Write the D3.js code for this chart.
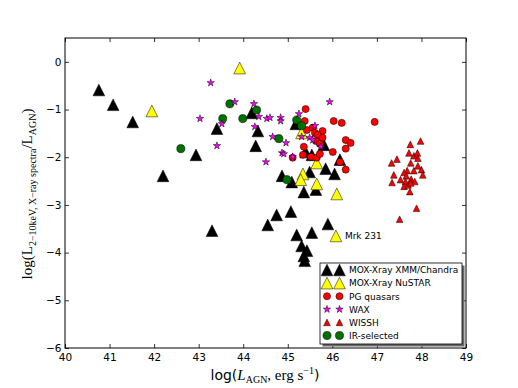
<!DOCTYPE html>
<html>
<head>
<meta charset="utf-8">
<script src="https://cdn.jsdelivr.net/npm/d3@7"></script>
<style>
  body { margin: 0; background: #fff; }
  .tick text { font-family: "DejaVu Sans", sans-serif; font-size: 10.5px; fill: #000; }
  .tick line { stroke: #000; stroke-width: 0.8; }
</style>
</head>
<body>
<div class="chart"></div>
<script>
// Data: [log L_AGN, log(L_2-10/L_AGN)]
const moxXmm = [
  [40.76, -0.59], [41.08, -0.90], [41.52, -1.26], [42.20, -2.39], [42.94, -1.95],
  [43.41, -1.40], [43.30, -3.54], [44.19, -1.07], [44.33, -1.45], [44.28, -1.76],
  [45.18, -1.30], [45.40, -1.89], [45.54, -1.95], [45.81, -1.74], [46.17, -2.05],
  [44.87, -2.39], [45.09, -2.52], [45.36, -2.73], [45.63, -2.68], [45.49, -2.31],
  [45.85, -2.24], [46.05, -2.35], [44.55, -3.42], [44.75, -3.21], [45.07, -3.14],
  [45.20, -3.63], [45.54, -3.58], [45.90, -3.40], [45.31, -3.86], [45.43, -3.96],
  [45.36, -4.07], [45.38, -4.17]
];
const moxNustar = [
  [41.95, -1.03], [43.92, -0.13], [45.31, -1.49], [45.65, -2.12], [45.34, -2.35],
  [45.29, -2.47], [45.65, -2.56], [46.10, -2.77], [46.08, -3.65]
];
const pgQuasars = [
  [45.40, -0.99], [45.38, -1.24], [46.03, -1.24], [46.21, -1.28], [46.95, -1.26],
  [45.43, -1.43], [45.56, -1.38], [45.78, -1.45], [45.61, -1.49], [45.67, -1.53],
  [45.78, -1.59], [45.63, -1.66], [45.72, -1.72], [45.36, -1.78], [46.30, -1.64],
  [46.41, -1.70], [46.30, -1.82], [46.01, -1.89], [45.34, -1.95], [45.52, -1.99],
  [45.65, -2.01], [45.72, -1.93], [45.11, -2.01], [46.17, -2.10], [46.30, -2.26]
];
const wax = [
  [43.27, -0.44], [43.03, -1.19], [43.41, -1.76], [43.52, -1.30], [43.81, -0.84],
  [44.24, -0.88], [44.35, -1.15], [44.26, -1.36], [44.53, -1.19], [44.60, -1.17],
  [44.84, -1.17], [44.84, -1.24], [44.66, -1.57], [44.96, -1.70], [44.87, -1.91],
  [44.91, -1.93], [45.11, -1.99], [44.51, -2.10], [45.25, -1.09], [45.61, -1.34],
  [45.31, -1.57], [45.49, -1.59], [45.56, -1.64], [45.74, -1.78], [45.94, -0.84]
];
const wissh = [
  [47.75, -1.73], [47.98, -1.66], [47.72, -1.91], [47.83, -1.97], [47.91, -1.91],
  [47.92, -2.02], [47.33, -2.12], [47.45, -2.04], [47.76, -2.12], [47.92, -2.18],
  [48.00, -2.26], [47.68, -2.28], [47.61, -2.32], [47.83, -2.28], [48.03, -2.37],
  [47.38, -2.37], [47.66, -2.39], [47.53, -2.47], [47.77, -2.46], [47.85, -2.51],
  [47.34, -2.53], [47.64, -2.51], [47.61, -2.61], [47.70, -2.58], [47.76, -2.54],
  [47.74, -2.72], [47.89, -3.07], [47.51, -3.30]
];
const irSelected = [
  [42.60, -1.82], [43.54, -1.19], [43.70, -0.88], [43.99, -1.19], [44.30, -1.01],
  [44.80, -1.61], [45.20, -1.22], [45.31, -1.34], [44.98, -2.47]
];
const xTicks = [40, 41, 42, 43, 44, 45, 46, 47, 48, 49];
const yTicks = [-6, -5, -4, -3, -2, -1, 0];
const annotation = { name: "Mrk 231", x: 46.08, y: -3.65 };

// Marker shapes (matplotlib style triangle: width = height)
const triUp = {
  draw(ctx, size) {
    const s = Math.sqrt(size) / 2;
    ctx.moveTo(0, -s);
    ctx.lineTo(-s, s);
    ctx.lineTo(s, s);
    ctx.closePath();
  }
};

const series = [
  { label: "MOX-Xray XMM/Chandra", data: moxXmm, type: triUp, size: 137, fill: "#000000" },
  { label: "MOX-Xray NuSTAR", data: moxNustar, type: triUp, size: 137, fill: "#ffff00" },
  { label: "PG quasars", data: pgQuasars, type: d3.symbolCircle, size: 40, fill: "#ff0000" },
  { label: "WAX", data: wax, type: d3.symbolStar, size: 17, fill: "#ff00ff" },
  { label: "WISSH", data: wissh, type: triUp, size: 44, fill: "#ff0000" },
  { label: "IR-selected", data: irSelected, type: d3.symbolCircle, size: 52, fill: "#007000" }
];
const drawOrder = [0, 1, 2, 5, 3, 4];

const W = 518, H = 388;
const plot = { left: 65, right: 466, top: 38, bottom: 348 };

const svg = d3.select(".chart").append("svg")
  .attr("width", W)
  .attr("height", H);

svg.append("rect").attr("width", W).attr("height", H).attr("fill", "#fff");

// Scales.
const x = d3.scaleLinear().domain([40, 49]).range([plot.left, plot.right]);
const y = d3.scaleLinear().domain([-6, 0.5]).range([plot.bottom, plot.top]);
const intFmt = d3.format("d");

// Axes, ticks pointing inward on all four sides.
svg.append("g")
  .attr("transform", `translate(0,${plot.bottom})`)
  .call(d3.axisBottom(x).tickValues(xTicks).tickFormat(intFmt)
    .tickSizeInner(-4).tickSizeOuter(0).tickPadding(5.5));
svg.append("g")
  .attr("transform", `translate(${plot.left},0)`)
  .call(d3.axisLeft(y).tickValues(yTicks).tickFormat(intFmt)
    .tickSizeInner(-4).tickSizeOuter(0).tickPadding(3.5));
svg.append("g")
  .attr("transform", `translate(0,${plot.top})`)
  .call(d3.axisTop(x).tickValues(xTicks).tickSizeInner(-4).tickSizeOuter(0).tickFormat(""));
svg.append("g")
  .attr("transform", `translate(${plot.right},0)`)
  .call(d3.axisRight(y).tickValues(yTicks).tickSizeInner(-4).tickSizeOuter(0).tickFormat(""));
svg.selectAll(".domain").remove();

// Points.
const marks = svg.append("g").attr("class", "marks");
drawOrder.forEach((i) => {
  const s = series[i];
  marks.append("g")
    .selectAll("path")
    .data(s.data)
    .enter()
    .append("path")
    .attr("d", d3.symbol().type(s.type).size(s.size))
    .attr("transform", (d) => `translate(${x(d[0])},${y(d[1])})`)
    .attr("fill", s.fill)
    .attr("stroke", "#000")
    .attr("stroke-width", 0.5);
});

// Annotation.
svg.append("text")
  .attr("x", x(annotation.x) + 9)
  .attr("y", y(annotation.y) + 3.5)
  .attr("font-family", "DejaVu Sans")
  .attr("font-size", 9)
  .text(annotation.name);

// Frame.
svg.append("rect")
  .attr("x", plot.left)
  .attr("y", plot.top)
  .attr("width", plot.right - plot.left)
  .attr("height", plot.bottom - plot.top)
  .attr("fill", "none")
  .attr("stroke", "#000")
  .attr("stroke-width", 1);

// Legend.
const lg = { x: 320, y: 263, w: 142, h: 81, row: 13.1 };
const legend = svg.append("g").attr("class", "legend");
legend.append("rect")
  .attr("x", lg.x + 2.5).attr("y", lg.y + 2.5)
  .attr("width", lg.w).attr("height", lg.h)
  .attr("fill", "#6a6a6a");
legend.append("rect")
  .attr("x", lg.x).attr("y", lg.y)
  .attr("width", lg.w).attr("height", lg.h)
  .attr("fill", "#fff").attr("stroke", "#000").attr("stroke-width", 0.8);

series.forEach((s, i) => {
  const ry = lg.y + 7 + i * lg.row;
  [327, 339.5].forEach((mx) => {
    legend.append("path")
      .attr("d", d3.symbol().type(s.type).size(s.size))
      .attr("transform", `translate(${mx},${ry})`)
      .attr("fill", s.fill)
      .attr("stroke", "#000")
      .attr("stroke-width", 0.5);
  });
  legend.append("text")
    .attr("x", 349)
    .attr("y", ry + 3.3)
    .attr("font-family", "DejaVu Sans")
    .attr("font-size", 9)
    .text(s.label);
});

// X label.
const xl = svg.append("text")
  .attr("x", 265)
  .attr("y", 380)
  .attr("text-anchor", "middle")
  .attr("font-size", 15);
xl.append("tspan").attr("font-family", "DejaVu Sans").attr("font-size", 14).text("log(");
xl.append("tspan").attr("font-family", "Liberation Serif").attr("font-style", "italic").text("L");
xl.append("tspan").attr("font-family", "Liberation Serif").attr("font-size", 10).attr("dy", 3).text("AGN");
xl.append("tspan").attr("font-family", "Liberation Serif").attr("dy", -3).text(", erg s");
xl.append("tspan").attr("font-family", "Liberation Serif").attr("font-size", 10).attr("dy", -6).text("−1");
xl.append("tspan").attr("font-family", "DejaVu Sans").attr("font-size", 14).attr("dy", 6).text(")");

// Y label.
const yl = svg.append("text")
  .attr("transform", "translate(32,194) rotate(-90)")
  .attr("text-anchor", "middle")
  .attr("font-family", "Liberation Serif")
  .attr("font-size", 15);
yl.append("tspan").text("log(L");
yl.append("tspan").attr("font-size", 10).attr("dy", 3.5).text("2−10keV, X−ray spectra");
yl.append("tspan").attr("dy", -3.5).text("/L");
yl.append("tspan").attr("font-size", 10).attr("dy", 3.5).text("AGN");
yl.append("tspan").attr("dy", -3.5).text(")");
</script>
</body>
</html>
